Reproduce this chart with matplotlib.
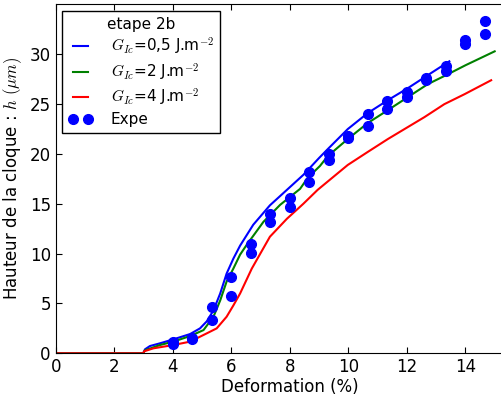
import matplotlib
matplotlib.use("Agg")
import matplotlib.pyplot as plt

plt.rcParams['mathtext.fontset'] = 'cm'
plt.rcParams['font.family'] = 'DejaVu Sans'

# simulations, etape 2b
x_05 = [0, 2.99, 3.05, 3.22, 3.56, 4.02, 4.59, 4.93, 5.16, 5.39, 5.62, 5.84,
        6.07, 6.3, 6.75, 7.32, 7.9, 8.46, 9.0, 9.3, 9.98, 10.66, 11.35,
        12.03, 12.71, 13.45]
h_05 = [0, 0, 0.4, 0.73, 1.0, 1.4, 1.93, 2.5, 3.2, 4.3, 6.0, 8.0,
        9.5, 10.8, 12.9, 14.85, 16.4, 17.9, 19.6, 20.5, 22.5, 24.1, 25.4,
        26.6, 27.9, 29.3]

x_2 = [0, 2.99, 3.05, 3.56, 4.02, 4.59, 5.05, 5.39, 5.62, 5.84, 6.07, 6.3,
       6.53, 7.1, 7.67, 8.35, 8.61, 9.03, 9.3, 9.98, 10.66, 11.35, 12.03,
       12.71, 13.4, 14.0, 15.0]
h_2 = [0, 0, 0.3, 0.83, 1.17, 1.73, 2.33, 3.67, 5.3, 7.2, 8.5, 9.9,
       10.9, 13.2, 14.9, 16.5, 17.6, 18.8, 19.8, 21.5, 23.1, 24.4, 25.7,
       27.0, 28.0, 28.9, 30.3]

x_4 = [0, 2.99, 3.02, 3.34, 4.02, 4.59, 5.16, 5.5, 5.84, 6.07, 6.3, 6.7,
       7.32, 7.9, 8.46, 8.95, 9.98, 10.66, 11.35, 12.6, 13.28, 13.97, 14.88]
h_4 = [0, 0, 0.2, 0.5, 0.83, 1.17, 2.0, 2.5, 3.67, 4.8, 6.0, 8.5,
       11.7, 13.5, 15.0, 16.4, 18.9, 20.2, 21.5, 23.7, 25.0, 26.0, 27.4]

# experimental points (two measures per deformation)
expe_x = [4, 4.67, 5.33, 6, 6.67, 7.33, 8, 8.67, 9.33, 10, 10.67, 11.33,
          12, 12.67, 13.33, 14, 14.67]
expe_h1 = [1.16, 1.43, 4.67, 7.64, 11.0, 14.0, 15.55, 18.2, 20.0, 21.8, 24.0,
           25.3, 26.2, 27.6, 28.8, 31.4, 33.3]
expe_h2 = [0.93, 1.55, 3.3, 5.8, 10.1, 13.2, 14.7, 17.2, 19.4, 21.6, 22.8,
           24.5, 25.7, 27.4, 28.3, 31.0, 32.0]

fig = plt.figure(figsize=(5.02, 3.98), dpi=100)
ax = fig.add_axes([0.111, 0.1123, 0.9327, 0.8764])

ax.plot(x_05, h_05, color='b', lw=1.5, label=r'$G_{Ic}$=0,5 J.m$^{-2}$')
ax.plot(x_2, h_2, color='g', lw=1.5, label=r'$G_{Ic}$=2 J.m$^{-2}$')
ax.plot(x_4, h_4, color='r', lw=1.5, label=r'$G_{Ic}$=4 J.m$^{-2}$')
ax.plot(expe_x + expe_x, expe_h1 + expe_h2, 'o', color='b', ms=7,
        mec='b', label='Expe')

ax.set_xlim(0, 16)
ax.set_ylim(0, 35)
ax.set_xticks(range(0, 15, 2))
ax.set_yticks(range(0, 31, 5))
ax.tick_params(direction='in', top=True, right=True, labelsize=12, length=4)
ax.set_xlabel('Deformation (%)', fontsize=12, labelpad=1.5)
ax.set_ylabel(r'Hauteur de la cloque : $h$ $(\mu m)$', fontsize=12)

leg = ax.legend(loc='upper left', title='etape 2b', numpoints=2,
                fontsize=11, title_fontsize=11, fancybox=False,
                framealpha=1, edgecolor='k', handlelength=1.6,
                handletextpad=1.2, labelspacing=0.28, borderaxespad=0.4)
leg.get_frame().set_linewidth(1.0)

fig.savefig('out.png', dpi=100)
